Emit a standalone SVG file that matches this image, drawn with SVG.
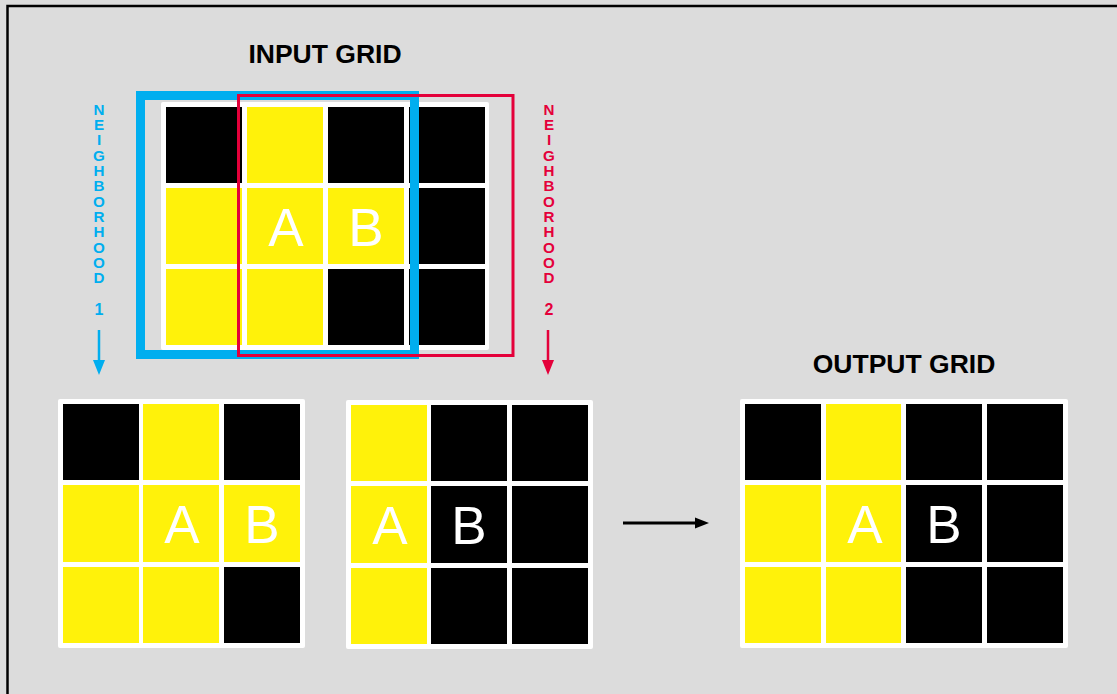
<svg xmlns="http://www.w3.org/2000/svg" width="1117" height="694" viewBox="0 0 1117 694">
<style>
.bg{fill:#dcdcdc}
.frame{fill:none;stroke:#000;stroke-width:2.5}
.grid{fill:#fff}
.k{fill:#000}
.y{fill:#fff20a}
.lt{font-family:"Liberation Sans",Arial,sans-serif;font-size:53px;fill:#fff;text-anchor:middle}
.title{font-family:"Liberation Sans",Arial,sans-serif;font-size:26.5px;font-weight:bold;fill:#000;text-anchor:middle}
.vt{font-family:"Liberation Sans",Arial,sans-serif;font-size:15.2px;font-weight:bold;text-anchor:middle}
.num{font-family:"Liberation Sans",Arial,sans-serif;font-size:16px;font-weight:bold;text-anchor:middle}
.blue{fill:#00aeef}
.red{fill:#e4003a}
</style>
<rect class="bg" x="0" y="0" width="1117" height="694"/>
<rect class="frame" x="7.5" y="6" width="1120" height="700"/>

<g id="input-grid">
<text class="title" x="325" y="63">INPUT GRID</text>
<rect class="grid" x="161" y="102" width="328" height="248" rx="2"/>
<rect class="k" x="166" y="107" width="76" height="76"/>
<rect class="y" x="247" y="107" width="76" height="76"/>
<rect class="k" x="328" y="107" width="76" height="76"/>
<rect class="k" x="409" y="107" width="76" height="76"/>
<rect class="y" x="166" y="188" width="76" height="76"/>
<rect class="y" x="247" y="188" width="76" height="76"/>
<rect class="y" x="328" y="188" width="76" height="76"/>
<rect class="k" x="409" y="188" width="76" height="76"/>
<rect class="y" x="166" y="269" width="76" height="76"/>
<rect class="y" x="247" y="269" width="76" height="76"/>
<rect class="k" x="328" y="269" width="76" height="76"/>
<rect class="k" x="409" y="269" width="76" height="76"/>
<text class="lt" x="286" y="246">A</text>
<text class="lt" x="366" y="246">B</text>
</g>

<g id="neighborhood-1">
<rect x="140.5" y="95.5" width="274" height="259" fill="none" stroke="#00aeef" stroke-width="9"/>
<text class="vt blue">
<tspan x="99" y="114.5">N</tspan><tspan x="99" y="129.8">E</tspan><tspan x="99" y="145.1">I</tspan><tspan x="99" y="160.5">G</tspan><tspan x="99" y="175.8">H</tspan><tspan x="99" y="191.1">B</tspan><tspan x="99" y="206.5">O</tspan><tspan x="99" y="221.8">R</tspan><tspan x="99" y="237.1">H</tspan><tspan x="99" y="252.5">O</tspan><tspan x="99" y="267.8">O</tspan><tspan x="99" y="283.1">D</tspan>
</text>
<text class="num blue" x="99" y="315">1</text>
</g>

<g id="neighborhood-2">
<rect x="238.5" y="95.5" width="274.5" height="260" fill="none" stroke="#e4003a" stroke-width="3"/>
<text class="vt red">
<tspan x="549" y="114.5">N</tspan><tspan x="549" y="129.8">E</tspan><tspan x="549" y="145.1">I</tspan><tspan x="549" y="160.5">G</tspan><tspan x="549" y="175.8">H</tspan><tspan x="549" y="191.1">B</tspan><tspan x="549" y="206.5">O</tspan><tspan x="549" y="221.8">R</tspan><tspan x="549" y="237.1">H</tspan><tspan x="549" y="252.5">O</tspan><tspan x="549" y="267.8">O</tspan><tspan x="549" y="283.1">D</tspan>
</text>
<text class="num red" x="549" y="315">2</text>
</g>

<g id="grid-1">
<rect class="grid" x="58" y="399" width="247" height="249" rx="2"/>
<rect class="k" x="63" y="404" width="76" height="76"/>
<rect class="y" x="143" y="404" width="76" height="76"/>
<rect class="k" x="224" y="404" width="76" height="76"/>
<rect class="y" x="63" y="485" width="76" height="77"/>
<rect class="y" x="143" y="485" width="76" height="77"/>
<rect class="y" x="224" y="485" width="76" height="77"/>
<rect class="y" x="63" y="567" width="76" height="76"/>
<rect class="y" x="143" y="567" width="76" height="76"/>
<rect class="k" x="224" y="567" width="76" height="76"/>
<text class="lt" x="182" y="543">A</text>
<text class="lt" x="262" y="543">B</text>
</g>

<g id="grid-2">
<rect class="grid" x="346" y="400" width="247" height="249" rx="2"/>
<rect class="y" x="351" y="405" width="76" height="76"/>
<rect class="k" x="431" y="405" width="76" height="76"/>
<rect class="k" x="512" y="405" width="76" height="76"/>
<rect class="y" x="351" y="486" width="76" height="77"/>
<rect class="k" x="431" y="486" width="76" height="77"/>
<rect class="k" x="512" y="486" width="76" height="77"/>
<rect class="y" x="351" y="568" width="76" height="76"/>
<rect class="k" x="431" y="568" width="76" height="76"/>
<rect class="k" x="512" y="568" width="76" height="76"/>
<text class="lt" x="390" y="544">A</text>
<text class="lt" x="469" y="544">B</text>
</g>

<g id="output-grid">
<text class="title" x="904" y="373">OUTPUT GRID</text>
<rect class="grid" x="740" y="399" width="328" height="249" rx="2"/>
<rect class="k" x="745" y="404" width="76" height="76"/>
<rect class="y" x="826" y="404" width="75" height="76"/>
<rect class="k" x="906" y="404" width="76" height="76"/>
<rect class="k" x="987" y="404" width="76" height="76"/>
<rect class="y" x="745" y="485" width="76" height="77"/>
<rect class="y" x="826" y="485" width="75" height="77"/>
<rect class="k" x="906" y="485" width="76" height="77"/>
<rect class="k" x="987" y="485" width="76" height="77"/>
<rect class="y" x="745" y="567" width="76" height="76"/>
<rect class="y" x="826" y="567" width="75" height="76"/>
<rect class="k" x="906" y="567" width="76" height="76"/>
<rect class="k" x="987" y="567" width="76" height="76"/>
<text class="lt" x="865" y="543">A</text>
<text class="lt" x="944" y="543">B</text>
</g>

<g id="connectors">
<line x1="99" y1="330" x2="99" y2="362" stroke="#00aeef" stroke-width="2.5"/>
<polygon class="blue" points="93,360 105,360 99,375"/>
<line x1="548" y1="330" x2="548" y2="362" stroke="#e4003a" stroke-width="2.5"/>
<polygon class="red" points="542,360 554,360 548,375"/>
<line x1="623" y1="523" x2="697" y2="523" stroke="#000" stroke-width="2.8"/>
<polygon points="695,517.5 709,523 695,528.5" fill="#000"/>
</g>
</svg>
